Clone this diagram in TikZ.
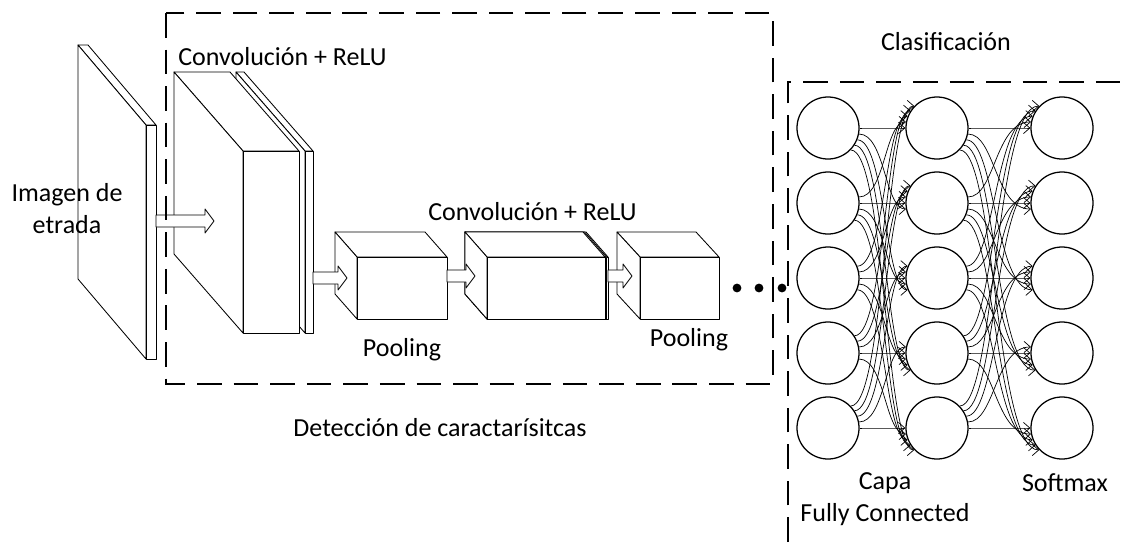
\documentclass[tikz,border=0pt]{standalone}
\usepackage{fontspec}
\setmainfont{Carlito}
\usetikzlibrary{arrows.meta}

% one block of the network: back top-left corner x y, width, height, depth dx dy
\newcommand{\cnnbox}[6]{%
  \filldraw[layer] (#1,#2) -- (#1+#3,#2) -- (#1+#3+#5,#2+#6) -- (#1+#5,#2+#6) -- cycle;
  \filldraw[layer] (#1,#2) -- (#1+#5,#2+#6) -- (#1+#5,#2+#6+#4) -- (#1,#2+#4) -- cycle;
  \filldraw[layer] (#1+#5,#2+#6) rectangle (#1+#5+#3,#2+#6+#4);
}
% hollow arrow between blocks: from x, to x, at y
\newcommand{\fatarrow}[3]{%
  \filldraw[layer] (#1,#3-6) -- (#2-9,#3-6) -- (#2-9,#3-12) -- (#2,#3)
    -- (#2-9,#3+12) -- (#2-9,#3+6) -- (#1,#3+6) -- cycle;
}

\begin{document}
\begin{tikzpicture}[x=0.025cm,y=-0.025cm,
  layer/.style={draw,line width=0.6pt,fill=white,line join=round},
  region/.style={line width=1pt,dash pattern=on 17.5pt off 8.5pt},
  neuron/.style={circle,draw,line width=0.9pt,fill=white,minimum size=1.55cm,inner sep=0pt},
  link/.style={line width=0.5pt,-{Straight Barb[length=1.6mm,width=2.8mm]}},
  lbl/.style={font=\fontsize{18.5}{22.7}\selectfont,inner sep=0pt,align=center}]
  \useasboundingbox (0,0) rectangle (1121,542);

  % input image
  \cnnbox{78}{45}{10}{234}{68}{80}
  \node[lbl] (imgLbl) at (67,209) {Imagen de\\etrada};

  % first convolution
  \cnnbox{236}{72}{8}{182}{69}{79}
  \cnnbox{174}{72}{56}{182}{69}{79}
  \fatarrow{156}{214}{221}
  \node[lbl,anchor=west] (convLblA) at (178,57) {Convolución + ReLU};

  % pooling, convolution, pooling
  \cnnbox{335}{232}{90}{62}{22}{25}
  \fatarrow{313}{347}{278}
  \cnnbox{465}{232}{121}{62}{22}{25}
  \cnnbox{465}{232}{119.5}{62}{22}{25}
  \cnnbox{465}{232}{118}{62}{22}{25}
  \fatarrow{447}{475}{276}
  \cnnbox{617}{232}{79}{62}{23}{25}
  \fatarrow{608}{632}{276}
  \node[lbl] (poolLblA) at (402,350) {Pooling};
  \node[lbl,anchor=west] (convLblB) at (428,212) {Convolución + ReLU};
  \node[lbl] (poolLblB) at (689,340) {Pooling};

  \foreach \x in {737,759,782}
    \fill (\x,288) circle[radius=0.11cm];

  % regions
  \draw[region] (166,13) rectangle (773,384);
  \draw[region] (788,542) -- (788,82) -- (1121,82);
  \node[lbl] (detLbl) at (440,428) {Detección de caractarísitcas};
  \node[lbl] (clsLbl) at (946,42) {Clasificación};

  % fully connected part
  \foreach \r in {1,...,5}{
    \node[neuron] (a\r) at (828,53+75*\r) {};
    \node[neuron] (b\r) at (937,53+75*\r) {};
    \node[neuron] (c\r) at (1062,53+75*\r) {};
  }
  \coordinate (busA) at (885,0);
  \coordinate (busB) at (995,0);
  \foreach \i in {1,...,5}
    \foreach \j in {1,...,5}{
      \pgfmathsetmacro\aa{-11*(\j-\i)}
      \pgfmathsetmacro\bb{180+11*(\j-\i)}
      \draw[link] (a\i.\aa) .. controls (busA |- a\i.\aa) and (busA |- b\j.\bb) .. (b\j.\bb);
      \draw[link] (b\i.\aa) .. controls (busB |- b\i.\aa) and (busB |- c\j.\bb) .. (c\j.\bb);
    }
  \node[lbl] (fcLbl) at (885,499) {Capa\\Fully Connected};
  \node[lbl] (smLbl) at (1065,483) {Softmax};
\end{tikzpicture}
\end{document}
